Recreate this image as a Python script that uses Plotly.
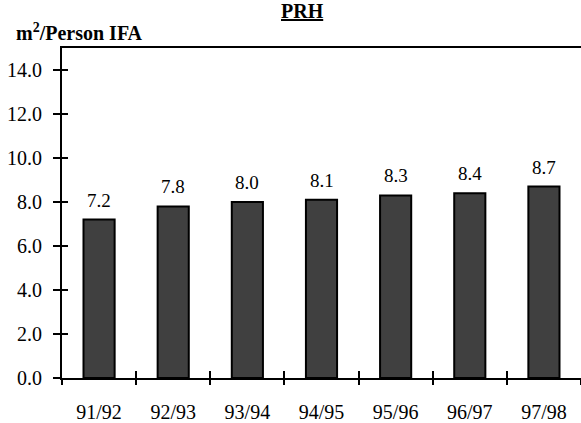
import plotly.graph_objects as go

# Floor area per person, PRH, by financial year
years = ["91/92", "92/93", "93/94", "94/95", "95/96", "96/97", "97/98"]
area_per_person = [7.2, 7.8, 8.0, 8.1, 8.3, 8.4, 8.7]
y_ticks = [0, 2, 4, 6, 8, 10, 12, 14]

SERIF = "Liberation Serif"
CLEAR = "rgba(0,0,0,0)"

fig = go.Figure()

fig.add_trace(go.Bar(
    x=years,
    y=area_per_person,
    width=0.42,
    marker=dict(color="#404040", line=dict(color="black", width=2)),
    hoverinfo="skip",
    showlegend=False,
))

# Invisible companion traces so the overlaid tick-only axes get drawn
for xa, ya in (("x2", "y2"), ("x3", "y3")):
    fig.add_trace(go.Scatter(
        x=years, y=area_per_person, mode="markers", marker=dict(opacity=0),
        xaxis=xa, yaxis=ya, hoverinfo="skip", showlegend=False,
    ))

# Value labels above the bars
for yr, v in zip(years, area_per_person):
    fig.add_annotation(
        x=yr, y=v, text=f"{v:.1f}", showarrow=False,
        yanchor="bottom", yshift=7, font=dict(family=SERIF, size=19, color="black"),
    )

x_base = dict(type="category", categoryarray=years, range=[-0.5, 6.5],
              showgrid=False, zeroline=False, automargin=False)
y_base = dict(range=[0, 15], tickmode="array", tickvals=y_ticks,
              showgrid=False, zeroline=False, automargin=False)
tick_only = dict(showline=False, showticklabels=False, tickwidth=2, tickcolor="black")

fig.update_layout(
    width=581, height=423,
    margin=dict(l=62, r=0, t=48, b=45),
    paper_bgcolor="white", plot_bgcolor="white",
    # main axes: lines and labels; their own ticks are clear and only set label distance
    xaxis=dict(
        **x_base,
        showline=True, linecolor="black", linewidth=2, mirror=True,
        ticks="outside", ticklen=15, tickcolor=CLEAR,
        tickfont=dict(family=SERIF, size=20, color="black"),
    ),
    yaxis=dict(
        **y_base, tickformat=".1f",
        showline=True, linecolor="black", linewidth=2,
        ticks="outside", ticklen=14, tickcolor=CLEAR,
        tickfont=dict(family=SERIF, size=20, color="black"),
    ),
    # tick marks crossing the axis: an inner half and an outer half
    xaxis2=dict(**x_base, **tick_only, overlaying="x", anchor="y2", side="bottom",
                ticks="inside", tickson="boundaries", ticklen=7),
    yaxis2=dict(**y_base, **tick_only, overlaying="y", anchor="x2", side="left",
                ticks="inside", ticklen=6),
    xaxis3=dict(**x_base, **tick_only, overlaying="x", anchor="y3", side="bottom",
                ticks="outside", tickson="boundaries", ticklen=6),
    yaxis3=dict(**y_base, **tick_only, overlaying="y", anchor="x3", side="left",
                ticks="outside", ticklen=8),
)

fig.add_annotation(
    xref="paper", yref="paper", x=0.464, y=1.0, yshift=24,
    xanchor="center", yanchor="bottom", showarrow=False,
    text="<b><u>PRH</u></b>", font=dict(family=SERIF, size=20, color="black"),
)
fig.add_annotation(
    xref="paper", yref="paper", x=-0.092, y=1.0, yshift=2,
    xanchor="left", yanchor="bottom", showarrow=False,
    text="<b>m<sup>2</sup>/Person IFA</b>", font=dict(family=SERIF, size=20, color="black"),
)

fig.write_html("out.html")
